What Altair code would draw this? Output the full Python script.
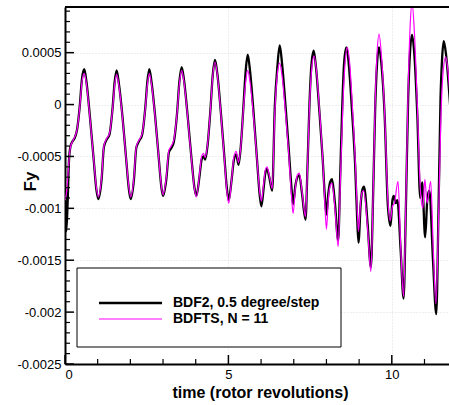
import altair as alt
import pandas as pd

series_names = ["BDF2, 0.5 degree/step", "BDFTS, N = 11"]

bdf2_t = [0.00, 0.04, 0.08, 0.12, 0.17, 0.24, 0.30, 0.37, 0.45, 0.52, 0.59, 0.66, 0.76, 0.87, 0.96,
          1.02, 1.12, 1.19, 1.27, 1.36, 1.46, 1.52, 1.58, 1.65, 1.76, 1.87, 1.96,
          2.01, 2.11, 2.18, 2.27, 2.36, 2.46, 2.52, 2.58, 2.65, 2.76, 2.87, 2.95,
          3.00, 3.10, 3.18, 3.25, 3.33, 3.43, 3.50, 3.57, 3.64, 3.75, 3.87, 3.96,
          4.02, 4.12, 4.18, 4.24, 4.29, 4.36, 4.45, 4.52, 4.59, 4.66, 4.77, 4.88, 4.96,
          5.01, 5.10, 5.17, 5.24, 5.31, 5.38, 5.46, 5.53, 5.59, 5.66, 5.77, 5.88, 5.96,
          6.01, 6.08, 6.13, 6.18, 6.25, 6.34, 6.42, 6.50, 6.57, 6.64, 6.74, 6.84, 6.93,
          6.98, 7.05, 7.11, 7.17, 7.25, 7.36, 7.42, 7.48, 7.54, 7.61, 7.68, 7.78, 7.88, 7.95,
          8.00, 8.06, 8.12, 8.17, 8.26, 8.36, 8.42, 8.48, 8.54, 8.61, 8.68, 8.78, 8.88, 8.94,
          8.98, 9.05, 9.10, 9.15, 9.26, 9.36, 9.43, 9.49, 9.55, 9.61, 9.68, 9.78, 9.88,
          9.96, 10.02, 10.06, 10.12, 10.17, 10.27, 10.36, 10.43, 10.50, 10.56, 10.62, 10.69, 10.78, 10.87,
          10.93, 11.02, 11.09, 11.15, 11.26, 11.36, 11.43, 11.49, 11.54, 11.59, 11.66, 11.76, 11.85]
bdf2_fy = [-0.00080, -0.00122, -0.00095, -0.00055, -0.00040, -0.00035, -0.00032, -0.00024, -0.00002, 0.00025, 0.00034, 0.00021, -0.00011, -0.00050, -0.00082,
           -0.00091, -0.00072, -0.00041, -0.00034, -0.00029, -0.00002, 0.00022, 0.00033, 0.00020, -0.00012, -0.00052, -0.00083,
           -0.00091, -0.00072, -0.00042, -0.00035, -0.00029, -0.00002, 0.00022, 0.00034, 0.00021, -0.00012, -0.00052, -0.00080,
           -0.00088, -0.00072, -0.00046, -0.00042, -0.00036, -0.00008, 0.00022, 0.00036, 0.00024, -0.00010, -0.00052, -0.00080,
           -0.00088, -0.00068, -0.00053, -0.00050, -0.00053, -0.00040, -0.00005, 0.00028, 0.00043, 0.00030, -0.00008, -0.00052, -0.00083,
           -0.00092, -0.00072, -0.00053, -0.00048, -0.00058, -0.00040, -0.00002, 0.00033, 0.00048, 0.00033, -0.00008, -0.00055, -0.00088,
           -0.00098, -0.00080, -0.00066, -0.00062, -0.00070, -0.00083, -0.00002, 0.00037, 0.00057, 0.00040, 0.00002, -0.00040, -0.00080,
           -0.00096, -0.00078, -0.00070, -0.00068, -0.00085, -0.00111, -0.00060, 0.00000, 0.00038, 0.00052, 0.00036, -0.00005, -0.00050, -0.00088,
           -0.00106, -0.00085, -0.00074, -0.00072, -0.00095, -0.00131, -0.00070, -0.00005, 0.00040, 0.00055, 0.00040, -0.00005, -0.00060, -0.00110,
           -0.00133, -0.00095, -0.00082, -0.00079, -0.00115, -0.00157, -0.00085, -0.00005, 0.00040, 0.00055, 0.00040, -0.00010, -0.00098,
           -0.00117, -0.00092, -0.00088, -0.00095, -0.00092, -0.00140, -0.00187, -0.00100, 0.00005, 0.00052, 0.00067, 0.00048, -0.00010, -0.00090,
           -0.00075, -0.00128, -0.00090, -0.00083, -0.00150, -0.00202, -0.00100, 0.00005, 0.00045, 0.00061, 0.00048, 0.00010, -0.00030]

bdfts_t = [0.00, 0.05, 0.10, 0.16, 0.24, 0.30, 0.37, 0.45, 0.52, 0.59, 0.66, 0.76, 0.87, 0.96,
           1.02, 1.12, 1.19, 1.27, 1.36, 1.46, 1.52, 1.58, 1.65, 1.76, 1.87, 1.96,
           2.01, 2.11, 2.18, 2.27, 2.36, 2.46, 2.52, 2.58, 2.65, 2.76, 2.87, 2.95,
           3.00, 3.10, 3.18, 3.25, 3.33, 3.43, 3.50, 3.57, 3.64, 3.75, 3.87, 3.96,
           4.02, 4.12, 4.18, 4.24, 4.29, 4.36, 4.45, 4.52, 4.59, 4.66, 4.77, 4.88, 4.96,
           5.01, 5.10, 5.17, 5.24, 5.31, 5.38, 5.46, 5.53, 5.59, 5.66, 5.77, 5.88, 5.96,
           6.01, 6.08, 6.13, 6.18, 6.25, 6.34, 6.42, 6.50, 6.57, 6.64, 6.74, 6.84, 6.93,
           6.98, 7.05, 7.11, 7.17, 7.25, 7.36, 7.42, 7.48, 7.55, 7.62, 7.69, 7.79, 7.89, 7.95,
           8.00, 8.06, 8.12, 8.17, 8.26, 8.36, 8.43, 8.50, 8.57, 8.64, 8.71, 8.80, 8.89, 8.94,
           8.98, 9.05, 9.10, 9.14, 9.26, 9.36, 9.43, 9.49, 9.55, 9.61, 9.68, 9.78, 9.88,
           9.95, 10.02, 10.08, 10.19, 10.27, 10.36, 10.43, 10.50, 10.56, 10.62, 10.69, 10.78, 10.87,
           10.95, 11.01, 11.08, 11.19, 11.27, 11.35, 11.43, 11.50, 11.58, 11.65, 11.72, 11.80]
bdfts_fy = [-0.00092, -0.00084, -0.00063, -0.00042, -0.00035, -0.00031, -0.00024, -0.00003, 0.00022, 0.00030, 0.00019, -0.00012, -0.00050, -0.00080,
            -0.00089, -0.00070, -0.00040, -0.00033, -0.00028, -0.00003, 0.00019, 0.00029, 0.00018, -0.00013, -0.00052, -0.00081,
            -0.00089, -0.00070, -0.00041, -0.00034, -0.00028, -0.00003, 0.00019, 0.00030, 0.00019, -0.00013, -0.00052, -0.00079,
            -0.00087, -0.00070, -0.00044, -0.00040, -0.00034, -0.00008, 0.00020, 0.00033, 0.00022, -0.00011, -0.00053, -0.00081,
            -0.00089, -0.00066, -0.00050, -0.00047, -0.00051, -0.00039, -0.00005, 0.00027, 0.00041, 0.00029, -0.00009, -0.00054, -0.00086,
            -0.00095, -0.00072, -0.00050, -0.00045, -0.00056, -0.00040, -0.00004, 0.00022, 0.00033, 0.00022, -0.00012, -0.00055, -0.00085,
            -0.00093, -0.00076, -0.00063, -0.00060, -0.00068, -0.00081, -0.00008, 0.00030, 0.00040, 0.00028, -0.00005, -0.00045, -0.00088,
            -0.00105, -0.00080, -0.00068, -0.00066, -0.00083, -0.00108, -0.00060, -0.00002, 0.00035, 0.00047, 0.00034, -0.00007, -0.00055, -0.00095,
            -0.00120, -0.00090, -0.00078, -0.00076, -0.00100, -0.00137, -0.00070, -0.00003, 0.00040, 0.00055, 0.00040, -0.00005, -0.00060, -0.00100,
            -0.00122, -0.00092, -0.00084, -0.00083, -0.00120, -0.00161, -0.00085, 0.00000, 0.00050, 0.00068, 0.00048, -0.00008, -0.00092,
            -0.00112, -0.00098, -0.00095, -0.00074, -0.00135, -0.00185, -0.00095, 0.00015, 0.00075, 0.00098, 0.00070, 0.00000, -0.00080,
            -0.00100, -0.00072, -0.00095, -0.00074, -0.00140, -0.00192, -0.00110, -0.00015, 0.00035, 0.00046, 0.00032, 0.00000]

x_major = [0, 5, 10]
x_minor = [1, 2, 3, 4, 6, 7, 8, 9, 11]
y_major = [-0.0025, -0.002, -0.0015, -0.001, -0.0005, 0, 0.0005]
y_minor = [-0.0024, -0.0023, -0.0022, -0.0021, -0.0019, -0.0018, -0.0017, -0.0016,
           -0.0014, -0.0013, -0.0012, -0.0011, -0.0009, -0.0008, -0.0007, -0.0006,
           -0.0004, -0.0003, -0.0002, -0.0001, 0.0001, 0.0002, 0.0003, 0.0004,
           0.0006, 0.0007, 0.0008, 0.0009]

W, H = 384, 357
FONT = "Liberation Sans"

xs = alt.Scale(domain=[0, 11.75], nice=False, zero=False)
ys = alt.Scale(domain=[-0.0025, 0.00094], nice=False, zero=False)

xaxis = alt.Axis(values=x_major, title="time (rotor revolutions)", labelExpr="'' + datum.value",
                 labelFont=FONT, labelFontSize=13, labelColor="black", labelPadding=4,
                 ticks=False, tickSize=0, domainColor="black", domainWidth=2,
                 grid=True, gridColor="#dcdcdc", gridDash=[1, 2], gridWidth=1,
                 titleFont=FONT, titleFontSize=16, titleFontWeight="bold", titleColor="black",
                 titleX=195, titleY=28, titleAlign="center", titleBaseline="middle")
yaxis = alt.Axis(values=y_major, title="Fy", labelExpr="'' + datum.value",
                 labelFont=FONT, labelFontSize=13, labelColor="black", labelPadding=4,
                 ticks=False, tickSize=0, domainColor="black", domainWidth=2,
                 grid=True, gridColor="#dcdcdc", gridDash=[1, 2], gridWidth=1,
                 titleFont=FONT, titleFontSize=17, titleFontWeight="bold", titleColor="black",
                 titleAngle=270, titleX=-35, titleY=174, titleAlign="center", titleBaseline="middle")

X = alt.X("t:Q", scale=xs, axis=xaxis)
Y = alt.Y("fy:Q", scale=ys, axis=yaxis)

df_b = pd.DataFrame({"t": bdf2_t, "fy": bdf2_fy})
df_m = pd.DataFrame({"t": bdfts_t, "fy": bdfts_fy})

line_b = alt.Chart(df_b).mark_line(color="#000000", strokeWidth=2.3, clip=True,
                                   interpolate="monotone").encode(x=X, y=Y)
line_m = alt.Chart(df_m).mark_line(color="#ff00ff", strokeWidth=1.2, clip=True,
                                   interpolate="monotone").encode(x=X, y=Y)

xt_major = alt.Chart(pd.DataFrame({"t": x_major})).mark_rule(color="black", strokeWidth=1.5).encode(
    x=X, y=alt.value(H), y2=alt.value(H - 9))
xt_minor = alt.Chart(pd.DataFrame({"t": x_minor})).mark_rule(color="black", strokeWidth=1.2).encode(
    x=X, y=alt.value(H), y2=alt.value(H - 5))
yt_major = alt.Chart(pd.DataFrame({"fy": y_major})).mark_rule(color="black", strokeWidth=1.5).encode(
    y=Y, x=alt.value(0), x2=alt.value(9))
yt_minor = alt.Chart(pd.DataFrame({"fy": y_minor})).mark_rule(color="black", strokeWidth=1.2).encode(
    y=Y, x=alt.value(0), x2=alt.value(5))

one = pd.DataFrame({"k": [0]})
top_border = alt.Chart(one).mark_rule(color="black", strokeWidth=2).encode(
    x=alt.value(0), x2=alt.value(W), y=alt.value(0))

leg_box = alt.Chart(one).mark_rect(fill="white", stroke="black", strokeWidth=1).encode(
    x=alt.value(12), x2=alt.value(276), y=alt.value(261), y2=alt.value(340))
leg_line_b = alt.Chart(one).mark_rule(color="#000000", strokeWidth=2.3).encode(
    x=alt.value(34), x2=alt.value(97), y=alt.value(296))
leg_line_m = alt.Chart(one).mark_rule(color="#ff00ff", strokeWidth=1.2).encode(
    x=alt.value(34), x2=alt.value(97), y=alt.value(312))
leg_txt_b = alt.Chart(one).mark_text(align="left", baseline="middle", font=FONT, fontSize=14,
                                     fontWeight="bold", color="black").encode(
    x=alt.value(108), y=alt.value(296), text=alt.value(series_names[0]))
leg_txt_m = alt.Chart(one).mark_text(align="left", baseline="middle", font=FONT, fontSize=14,
                                     fontWeight="bold", color="black").encode(
    x=alt.value(108), y=alt.value(312), text=alt.value(series_names[1]))

chart = alt.layer(
    line_b, line_m, xt_major, xt_minor, yt_major, yt_minor, top_border,
    leg_box, leg_line_b, leg_line_m, leg_txt_b, leg_txt_m
).properties(
    width=W, height=H,
    padding={"left": 65, "top": 7, "right": 0, "bottom": 41},
    autosize=alt.AutoSizeParams(type="none"),
    background="white",
).configure_view(stroke="transparent")

chart.save("out.html", embed_options={"renderer": "svg", "actions": False})
